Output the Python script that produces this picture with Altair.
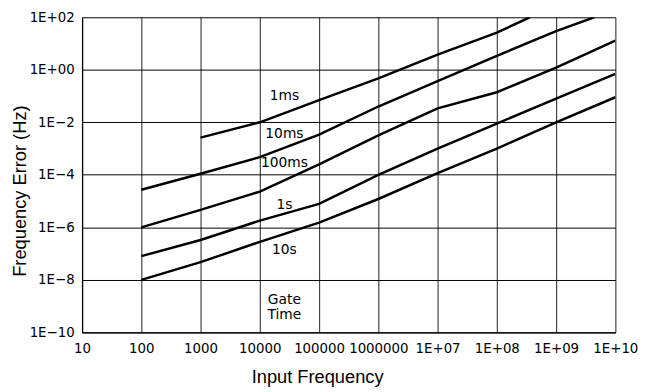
import json
import altair as alt
import pandas as pd

# ---- data ----
series_names = ["1ms", "10ms", "100ms", "1s", "10s"]

x_1ms = [1e3, 1e4, 1e5, 1e6, 1e7, 1e8, 3.6e8]
y_1ms = [2.6e-3, 1.0e-2, 7.0e-2, 0.47, 3.8, 26, 100]

x_10ms = [1e2, 1e3, 1e4, 1e5, 1e6, 1e7, 1e8, 1e9, 4.4e9]
y_10ms = [2.7e-5, 1.1e-4, 4.7e-4, 3.4e-3, 4.0e-2, 0.37, 3.4, 30, 100]

x_100ms = [1e2, 1e3, 1e4, 1e5, 1e6, 1e7, 1e8, 1e9, 1e10]
y_100ms = [1.0e-6, 4.6e-6, 2.3e-5, 2.5e-4, 3.2e-3, 3.4e-2, 0.14, 1.2, 13]

x_1s = [1e2, 1e3, 1e4, 1e5, 1e6, 1e7, 1e8, 1e9, 1e10]
y_1s = [8.0e-8, 3.3e-7, 1.8e-6, 7.8e-6, 1.0e-4, 1.0e-3, 9.0e-3, 8.0e-2, 0.7]

x_10s = [1e2, 1e3, 1e4, 1e5, 1e6, 1e7, 1e8, 1e9, 1e10]
y_10s = [1.0e-8, 4.7e-8, 2.8e-7, 1.5e-6, 1.2e-5, 1.15e-4, 1.0e-3, 1.0e-2, 0.09]

label_texts = ["1ms", "10ms", "100ms", "1s", "10s", "Gate", "Time"]
label_x = [2.6e4, 2.6e4, 2.6e4, 2.6e4, 2.6e4, 2.6e4, 2.6e4]
label_y = [0.12, 4.5e-3, 3.4e-4, 9.1e-6, 1.65e-7, 2.1e-9, 5.5e-10]

x_ticks = [10, 1e2, 1e3, 1e4, 1e5, 1e6, 1e7, 1e8, 1e9, 1e10]
x_tick_labels = ["10", "100", "1000", "10000", "100000", "1000000",
                 "1E+07", "1E+08", "1E+09", "1E+10"]
y_ticks = [1e-10, 1e-8, 1e-6, 1e-4, 1e-2, 1, 100]
y_tick_labels = ["1E\u221210", "1E\u22128", "1E\u22126", "1E\u22124",
                 "1E\u22122", "1E+00", "1E+02"]

# ---- build tables ----
rows = []
for name, xs, ys in [("1ms", x_1ms, y_1ms), ("10ms", x_10ms, y_10ms),
                     ("100ms", x_100ms, y_100ms), ("1s", x_1s, y_1s),
                     ("10s", x_10s, y_10s)]:
    for i, (xv, yv) in enumerate(zip(xs, ys)):
        rows.append({"series": name, "x": xv, "y": yv, "i": i})
df = pd.DataFrame(rows)
lab = pd.DataFrame({"text": label_texts, "x": label_x, "y": label_y})

x_expr = json.dumps(x_tick_labels, ensure_ascii=False) + "[round(log(datum.value)/LN10)-1]"
y_expr = json.dumps(y_tick_labels, ensure_ascii=False) + "[(round(log(datum.value)/LN10)+10)/2]"

TICK_FONT = "DejaVu Sans"
TITLE_FONT = "Liberation Sans"

xscale = alt.Scale(type="log", domain=[10, 1e10], nice=False)
yscale = alt.Scale(type="log", domain=[1e-10, 100], nice=False)

xaxis = alt.Axis(values=x_ticks, labelExpr=x_expr, title="Input Frequency",
                 grid=True, gridColor="#444444", gridWidth=1.2,
                 ticks=False, tickSize=0, labelPadding=9,
                 labelFont=TICK_FONT, labelFontSize=13.5, labelColor="black",
                 labelFlush=False, labelOverlap=False,
                 domainColor="black", domainWidth=1.2,
                 titleFont=TITLE_FONT, titleFontSize=18.5, titleFontWeight="normal",
                 titleColor="black", titleX=238, titleY=51,
                 titleAnchor="start", titleAlign="center", titleBaseline="alphabetic")
yaxis = alt.Axis(values=y_ticks, labelExpr=y_expr, title="Frequency Error (Hz)",
                 grid=True, gridColor="black", gridWidth=1,
                 ticks=False, tickSize=0, labelPadding=8,
                 labelFont=TICK_FONT, labelFontSize=13.5, labelColor="black",
                 labelFlush=False, labelOverlap=False,
                 domainColor="black", domainWidth=1.2,
                 titleFont=TITLE_FONT, titleFontSize=18.5, titleFontWeight="normal",
                 titleColor="black", titleX=-57, titleY=175.5, titleAngle=270,
                 titleAlign="center", titleBaseline="alphabetic")

lines = alt.Chart(df).mark_line(color="black", strokeWidth=2.5, clip=True).encode(
    x=alt.X("x:Q", scale=xscale, axis=xaxis),
    y=alt.Y("y:Q", scale=yscale, axis=yaxis),
    detail="series:N",
    order="i:Q",
)

texts = alt.Chart(lab).mark_text(font=TICK_FONT, fontSize=14, color="black",
                                 align="center", baseline="middle", dy=2.5).encode(
    x=alt.X("x:Q", scale=xscale),
    y=alt.Y("y:Q", scale=yscale),
    text="text:N",
)

chart = (lines + texts).properties(
    width=540, height=319,
    autosize=alt.AutoSizeParams(type="none"),
    padding={"left": 75, "top": 7, "right": 28, "bottom": 58},
).configure_view(stroke=None)

chart.save("out.html", embed_options={"renderer": "svg", "actions": False})
